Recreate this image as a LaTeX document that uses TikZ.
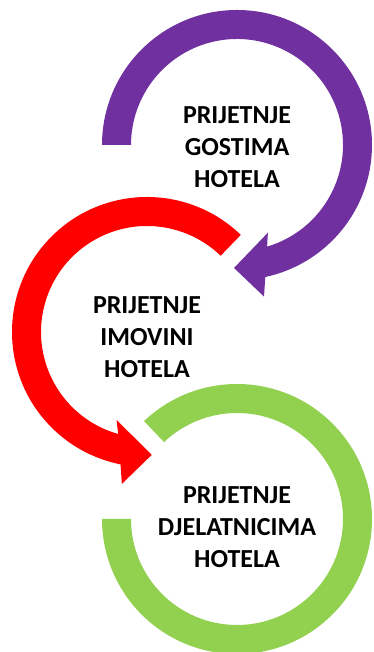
\documentclass[tikz,border=0pt]{standalone}
\usepackage{fontspec}
\setmainfont{Carlito}
\usetikzlibrary{positioning}
\definecolor{ringpurple}{HTML}{7030A0}
\definecolor{ringred}{HTML}{FF0000}
\definecolor{ringgreen}{HTML}{92D050}

\begin{document}
\begin{tikzpicture}[
    x=1pt, y=1pt,
    lbl/.style={font=\fontsize{26}{32}\selectfont\bfseries, align=center, text=black},
]
\useasboundingbox (0,0) rectangle (373,652);
% gostima
\begin{scope}[shift={(237,507)}]
\fill[ringpurple] (180:135pt) arc[start angle=180, end angle=-77.9, radius=135pt]
    -- (-79.9:154pt) -- (-91.4:123pt) -- (-70.6:93pt) -- (-73.5:106pt)
    arc[start angle=-73.5, end angle=180, radius=106pt] -- cycle;
\end{scope}
% imovini
\begin{scope}[shift={(147,320)}]
\fill[ringred] (46:135pt) arc[start angle=46, end angle=258.7, radius=135pt]
    -- (260.6:154pt) -- (272.2:123pt) -- (250.9:93pt) -- (254.2:106pt)
    arc[start angle=254.2, end angle=46, radius=106pt] -- cycle;
\end{scope}
% djelatnici
\begin{scope}[shift={(237,133)}]
\fill[ringgreen] (133.5:135pt) arc[start angle=133.5, end angle=-180, radius=135pt]
    -- (180:106pt) arc[start angle=-180, end angle=133.5, radius=106pt] -- cycle;
\end{scope}
\node[lbl] (gostima) at (237,505) {PRIJETNJE\\GOSTIMA\\HOTELA};
\node[lbl] (imovini) at (147,315) {PRIJETNJE\\IMOVINI\\HOTELA};
\node[lbl] (djelatnici) at (237,125) {PRIJETNJE\\DJELATNICIMA\\HOTELA};
\end{tikzpicture}
\end{document}
